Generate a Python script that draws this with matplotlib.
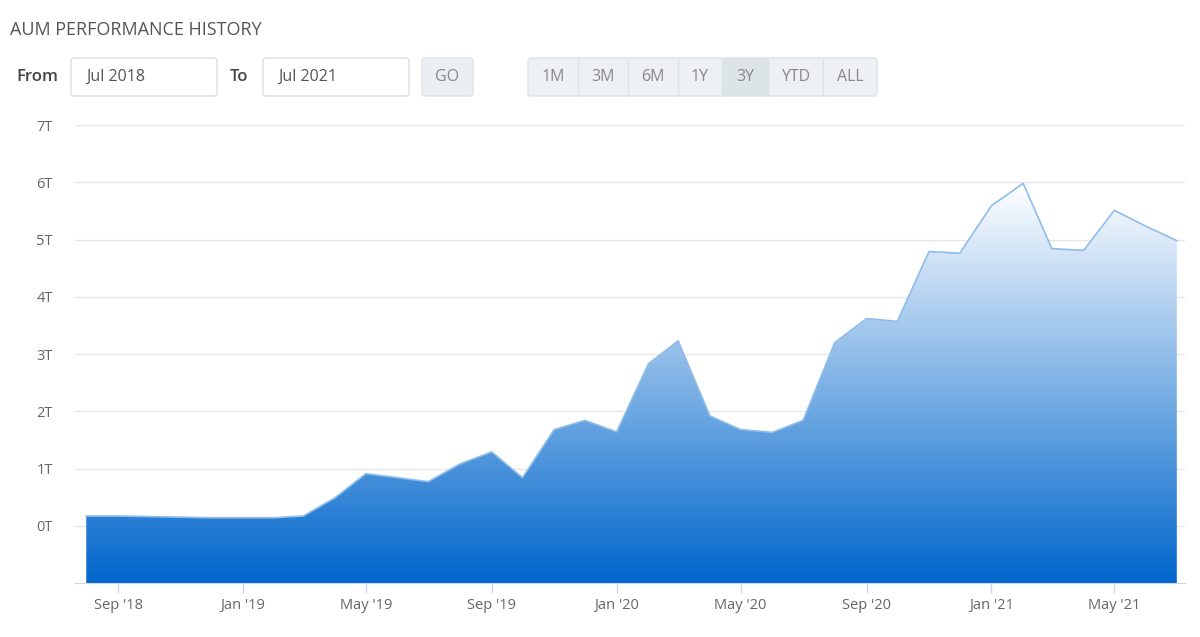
import matplotlib
matplotlib.use('Agg')
import matplotlib.pyplot as plt
import matplotlib.dates as mdates
from matplotlib.patches import FancyBboxPatch, Rectangle
from matplotlib.colors import LinearSegmentedColormap
import numpy as np
import pandas as pd

plt.rcParams['font.family'] = ['Open Sans', 'DejaVu Sans']

# monthly AUM, trillions
months = pd.date_range('2018-08-01', '2021-07-01', freq='MS')
aum = [0.17, 0.17, 0.16, 0.15, 0.14, 0.14, 0.14, 0.17, 0.49, 0.91,
       0.84, 0.77, 1.08, 1.29, 0.84, 1.68, 1.84, 1.64, 2.83, 3.23,
       1.92, 1.68, 1.63, 1.84, 3.20, 3.62, 3.57, 4.79, 4.76, 5.59,
       5.98, 4.84, 4.81, 5.51, 5.23, 4.98]
y_ticks = [0, 1, 2, 3, 4, 5, 6, 7]
y_labels = [f'{v}T' for v in y_ticks]
x_ticks = pd.to_datetime(['2018-09-01', '2019-01-01', '2019-05-01', '2019-09-01',
                          '2020-01-01', '2020-05-01', '2020-09-01', '2021-01-01',
                          '2021-05-01'])
x_labels = ["Sep '18", "Jan '19", "May '19", "Sep '19", "Jan '20", "May '20",
            "Sep '20", "Jan '21", "May '21"]
ranges = ['1M', '3M', '6M', '1Y', '3Y', 'YTD', 'ALL']
selected = '3Y'

W, H = 1200, 637
fig = plt.figure(figsize=(W / 100, H / 100), dpi=100)


def fx(px):
    return px / W


def fy(py):
    return 1 - py / H


ax = fig.add_axes([fx(75), fy(583), fx(1185) - fx(75), fy(125) - fy(583)])

xs = mdates.date2num(months)
ymin = -1
fill = ax.fill_between(xs, aum, ymin, color='none', lw=0)
cmap = LinearSegmentedColormap.from_list('aum', ['#0066cc', '#ffffff'])
grad = np.linspace(0, 1, 256).reshape(-1, 1)
img = ax.imshow(grad, cmap=cmap, origin='lower', aspect='auto',
                extent=[xs[0], xs[-1], ymin, max(aum)], zorder=2)
img.set_clip_path(fill.get_paths()[0], transform=ax.transData)
ax.plot(xs, aum, color='#8fbdea', lw=1.2, zorder=3)

ax.set_xlim(mdates.date2num(pd.Timestamp('2018-07-21')),
            mdates.date2num(pd.Timestamp('2021-07-09')))
ax.set_ylim(ymin, 7)
ax.set_yticks(y_ticks)
ax.set_yticklabels(y_labels)
ax.set_xticks(mdates.date2num(x_ticks))
ax.set_xticklabels(x_labels)
for v in y_ticks:
    ax.axhline(v, color='#e6e6e6', lw=1, zorder=1)
for s in ['top', 'right', 'left']:
    ax.spines[s].set_visible(False)
ax.spines['bottom'].set_color('#ccd6eb')
ax.spines['bottom'].set_zorder(4)
ax.tick_params(axis='y', length=0, pad=16, labelcolor='#666666', labelsize=10.5)
ax.tick_params(axis='x', length=7, width=1, color='#ccd6eb', pad=4,
               labelcolor='#666666', labelsize=10.5)
ax.set_facecolor('white')

# header and controls
fig.text(fx(10), fy(30), 'AUM PERFORMANCE HISTORY', fontsize=13, color='#555555',
         va='center', ha='left')
fig.text(fx(16), fy(77), 'From', fontsize=12, fontweight='semibold', color='#444444',
         va='center')
fig.text(fx(230), fy(77), 'To', fontsize=12, fontweight='semibold', color='#444444',
         va='center')


def box(x0, y0, x1, y1, fc, ec, r=3):
    p = FancyBboxPatch((fx(x0), fy(y1)), fx(x1) - fx(x0), fy(y0) - fy(y1),
                       boxstyle=f'round,pad=0,rounding_size={r / W}',
                       transform=fig.transFigure, fc=fc, ec=ec, lw=1,
                       mutation_aspect=W / H)
    fig.add_artist(p)


box(71, 58, 217, 96, 'white', '#dddddd')
fig.text(fx(86), fy(77), 'Jul 2018', fontsize=11.5, color='#555555', va='center')
box(263, 58, 409, 96, 'white', '#dddddd')
fig.text(fx(278), fy(77), 'Jul 2021', fontsize=11.5, color='#555555', va='center')
box(422, 58, 473, 96, '#eaeff1', '#dde3e6')
fig.text(fx(447.5), fy(77), 'GO', fontsize=11.5, color='#888888', va='center',
         ha='center')

edges = [528, 578, 628, 678, 722, 768, 823, 877]
box(edges[0], 58, edges[-1], 96, '#edf1f3', '#dde3e6')
for i, lab in enumerate(ranges):
    x0, x1 = edges[i], edges[i + 1]
    if lab == selected:
        fig.add_artist(Rectangle((fx(x0), fy(96)), fx(x1) - fx(x0), fy(58) - fy(96),
                                 transform=fig.transFigure, fc='#dde4e8', ec='none'))
    if i > 0:
        fig.add_artist(plt.Line2D([fx(x0), fx(x0)], [fy(59), fy(95)],
                                  transform=fig.transFigure, color='#dde3e6', lw=1))
    fig.text(fx((x0 + x1) / 2), fy(77), lab, fontsize=11.5, color='#888888',
             va='center', ha='center')

fig.savefig('out.png', dpi=100, facecolor='white')
